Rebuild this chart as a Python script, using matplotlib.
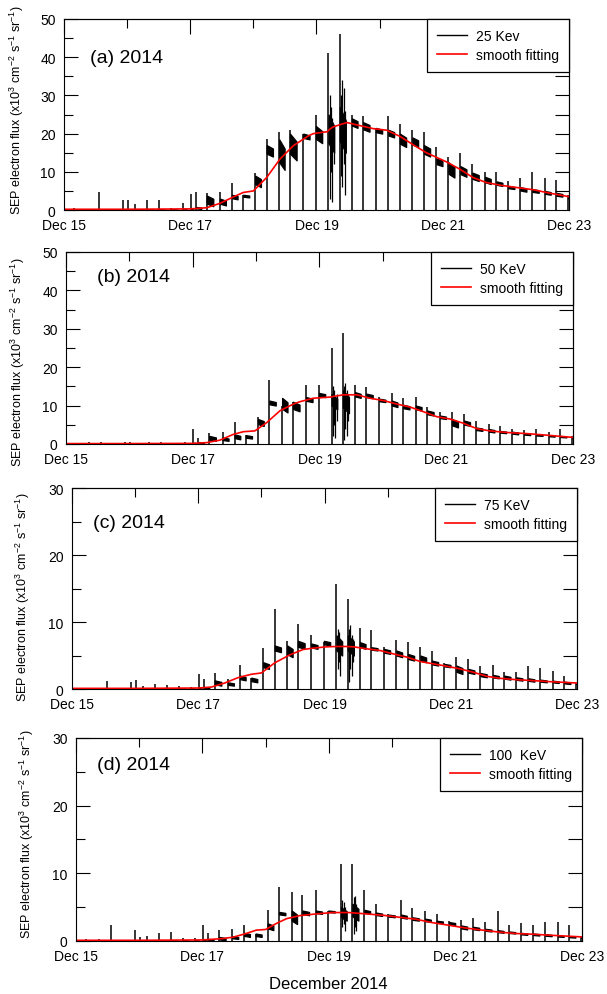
import matplotlib
matplotlib.use('Agg')
import matplotlib.pyplot as plt

plt.rcParams['font.family'] = 'Liberation Sans'
plt.rcParams['mathtext.fontset'] = 'custom'
plt.rcParams['mathtext.rm'] = 'Liberation Sans'
plt.rcParams['mathtext.default'] = 'regular'

# time axis: days after 15 Dec 2014 00:00 UT
tick_days = [0, 2, 4, 6, 8]
tick_labels = ['Dec 15', 'Dec 17', 'Dec 19', 'Dec 21', 'Dec 23']
minor_days = [1, 3, 5, 7]

# start of each data block / dropout (same for all channels)
t_evt = [0.16, 0.36, 0.55, 0.93, 1.01, 1.12, 1.31, 1.50, 1.69, 1.88,
         2.01, 2.09, 2.26, 2.47, 2.66, 2.84, 3.03, 3.21, 3.41, 3.58,
         3.79, 3.99, 4.19, 4.37, 4.56, 4.74, 4.94, 5.14, 5.32, 5.52,
         5.70, 5.90, 6.09, 6.28, 6.47, 6.67, 6.85, 7.04, 7.23, 7.42,
         7.62, 7.80, 7.99]

# 25 keV
peaks_a = [0.5, 0.3, 4.8, 2.5, 2.5, 1.5, 2.5, 2.5, 0.6, 1.8,
           4.1, 4.8, 4.5, 4.8, 7.2, 4.0, 9.6, 18.5, 20.5, 21.0,
           20.0, 24.8, 41.0, 46.0, 25.0, 24.6, 21.5, 24.6, 22.6, 21.0,
           20.5, 16.6, 14.0, 15.0, 12.0, 10.0, 10.0, 7.5, 8.3, 10.0,
           8.3, 7.9, 4.0]
bands_a = [(0, 0.2), (0, 0.2), (0, 0.2), (0, 0.2), (0, 0.2),
           (0, 0.2), (0, 0.2), (0, 0.2), (0, 0.2), (0, 0.2),
           (0.2, 0.5), (0.3, 0.8), (1.0, 3.8), (1.2, 3.0), (2.8, 4.0),
           (3.3, 4.0), (6.0, 9.0), (14.0, 17.0), (10.5, 18.5), (13.0, 20.0),
           (18.5, 20.0), (17.5, 22.0), (15.0, 25.0), (15.0, 27.0), (21.5, 24.0),
           (20.5, 23.0), (20.0, 21.5), (19.0, 21.0), (16.5, 20.0), (16.5, 19.0),
           (14.0, 17.0), (11.5, 13.5), (8.5, 12.5), (8.7, 11.5), (7.6, 9.8),
           (6.8, 8.7), (6.3, 7.5), (5.5, 6.3), (4.8, 6.0), (4.5, 5.5),
           (4.0, 5.0), (3.5, 4.5), (3.0, 3.6)]
extra_a = [(4.21, 3, 30), (4.23, 10, 27), (4.25, 2, 24), (4.27, 12, 22),
           (4.39, 9, 30), (4.41, 6, 34), (4.43, 12, 32), (4.45, 4, 26)]
fit_a_t = [0, 1.0, 2.0, 2.26, 2.47, 2.68, 2.84, 3.0, 3.21, 3.42, 3.63, 3.87,
           3.95, 4.17, 4.22, 4.27, 4.48, 4.69, 4.90, 5.11, 5.32, 5.53, 5.74,
           5.90, 6.06, 6.27, 6.48, 6.69, 6.91, 7.17, 7.44, 7.70, 8.0]
fit_a_y = [0.2, 0.2, 0.3, 0.6, 1.75, 3.4, 4.6, 5.0, 8.5, 13.3, 16.8, 19.4,
           20.0, 20.5, 21.3, 21.8, 22.9, 22.1, 21.3, 20.9, 19.3, 17.1, 15.0,
           13.8, 12.6, 10.7, 8.5, 7.2, 6.5, 5.9, 5.3, 4.4, 3.5]

# 50 keV
peaks_b = [0.2, 0.4, 0.5, 0.5, 0.5, 0.3, 0.5, 0.5, 0.3, 0.5,
           3.9, 1.5, 2.8, 3.2, 5.6, 2.3, 6.9, 16.6, 10.0, 11.0,
           15.3, 15.3, 24.9, 29.0, 15.3, 14.8, 12.2, 13.3, 11.9, 12.2,
           9.6, 8.2, 8.2, 7.8, 6.1, 5.2, 4.7, 3.9, 3.7, 3.9,
           3.2, 3.9, 2.0]
bands_b = [(0, 0.1), (0, 0.1), (0, 0.1), (0, 0.1), (0, 0.1),
           (0, 0.1), (0, 0.1), (0, 0.1), (0, 0.1), (0, 0.1),
           (0.1, 0.3), (0.2, 0.5), (0.8, 2.1), (0.8, 1.7), (1.2, 2.5),
           (1.4, 2.3), (4.7, 6.5), (10.0, 11.3), (8.2, 12.0), (8.5, 11.0),
           (10.9, 12.2), (12.2, 13.3), (9.0, 13.0), (8.0, 14.0), (12.0, 13.5),
           (11.9, 13.1), (10.9, 11.8), (9.6, 11.3), (9.0, 10.2), (8.7, 10.0),
           (7.4, 8.7), (6.5, 7.4), (4.3, 6.5), (4.7, 6.1), (3.4, 4.3),
           (3.0, 3.9), (2.8, 3.4), (2.5, 3.2), (2.3, 2.8), (2.1, 2.5),
           (1.9, 2.3), (1.7, 2.1), (1.5, 1.8)]
extra_b = [(4.21, 2, 15), (4.23, 5, 14), (4.25, 1.5, 12), (4.27, 6, 13),
           (4.39, 1, 15), (4.41, 4, 16), (4.43, 2, 14), (4.45, 6, 13)]
fit_b_t = [0, 1.0, 2.0, 2.22, 2.43, 2.64, 2.80, 2.98, 3.17, 3.38, 3.59, 3.69,
           3.90, 4.16, 4.38, 4.59, 4.80, 5.01, 5.22, 5.43, 5.64, 5.85, 6.06,
           6.27, 6.48, 6.69, 6.95, 7.27, 7.58, 8.0]
fit_b_y = [0.1, 0.1, 0.15, 0.35, 1.0, 2.5, 3.2, 3.4, 5.6, 8.7, 10.4, 11.0,
           11.9, 12.2, 12.8, 12.8, 11.9, 11.3, 10.4, 9.6, 8.4, 7.1, 6.5,
           5.4, 4.0, 3.4, 3.0, 2.7, 2.3, 1.7]

# 75 keV
peaks_c = [0.1, 0.2, 1.25, 1.0, 1.4, 0.5, 0.75, 0.6, 0.5, 0.3,
           2.2, 1.5, 2.4, 1.5, 3.6, 1.7, 6.1, 12.0, 7.2, 9.7,
           8.1, 7.0, 15.7, 13.4, 9.1, 8.75, 6.2, 7.25, 7.0, 6.25,
           5.75, 3.9, 4.75, 4.5, 3.5, 3.6, 2.5, 2.5, 3.5, 3.1,
           2.75, 1.9, 0.9]
bands_c = [(0, 0.08), (0, 0.08), (0, 0.08), (0, 0.08), (0, 0.08),
           (0, 0.08), (0, 0.08), (0, 0.08), (0, 0.08), (0, 0.08),
           (0.1, 0.2), (0.1, 0.3), (0.5, 1.3), (0.5, 1.0), (1.3, 2.0),
           (1.0, 1.7), (3.0, 4.0), (5.5, 6.5), (4.75, 6.5), (6.0, 7.2),
           (6.0, 6.8), (6.5, 7.2), (5.0, 8.0), (5.0, 8.0), (6.0, 7.0),
           (5.75, 6.25), (5.25, 6.0), (4.75, 5.75), (4.25, 5.25), (4.0, 5.0),
           (3.5, 4.25), (3.25, 3.75), (2.25, 3.5), (2.25, 3.0), (1.75, 2.4),
           (1.6, 2.1), (1.4, 2.0), (1.25, 1.75), (1.1, 1.6), (1.0, 1.4),
           (0.9, 1.25), (0.75, 1.1), (0.7, 0.9)]
extra_c = [(4.21, 3, 9), (4.23, 4, 8.5), (4.25, 2, 7.5),
           (4.39, 1, 9), (4.41, 3, 9.5), (4.43, 2, 8), (4.45, 4, 7.5)]
fit_c_t = [0, 1.0, 2.0, 2.21, 2.42, 2.63, 2.84, 3.0, 3.21, 3.45, 3.66, 3.82,
           4.03, 4.19, 4.35, 4.46, 4.67, 4.88, 5.09, 5.31, 5.52, 5.73, 5.94,
           6.15, 6.36, 6.57, 6.78, 7.04, 7.31, 7.57, 8.0]
fit_c_y = [0.1, 0.1, 0.15, 0.3, 0.9, 1.7, 2.2, 2.4, 3.9, 5.1, 5.9, 6.1,
           6.3, 6.35, 6.35, 6.3, 6.0, 5.75, 5.25, 4.75, 4.1, 3.75, 3.4,
           3.0, 2.5, 1.9, 1.6, 1.4, 1.25, 1.1, 0.9]

# 100 keV
peaks_d = [0.3, 0.3, 2.3, 1.6, 0.6, 0.7, 1.2, 1.3, 0.4, 0.4,
           2.3, 1.2, 1.6, 1.8, 2.4, 1.1, 4.6, 8.0, 7.2, 6.8,
           7.5, 4.5, 11.4, 11.4, 7.5, 5.5, 4.0, 6.0, 4.9, 4.4,
           4.0, 3.0, 3.1, 3.4, 2.8, 4.5, 2.3, 2.6, 2.3, 2.8,
           2.8, 2.3, 0.6]
bands_d = [(0, 0.08), (0, 0.08), (0, 0.08), (0, 0.08), (0, 0.08),
           (0, 0.08), (0, 0.08), (0, 0.08), (0, 0.08), (0, 0.08),
           (0.1, 0.2), (0.1, 0.3), (0.1, 0.6), (0.3, 0.7), (0.6, 1.2),
           (0.6, 1.1), (1.6, 2.6), (3.8, 4.3), (2.5, 4.5), (3.8, 4.5),
           (4.0, 4.5), (4.2, 4.5), (3.0, 5.0), (3.0, 5.5), (4.0, 4.6),
           (3.7, 4.2), (3.5, 3.9), (3.3, 3.9), (3.0, 3.5), (2.8, 3.3),
           (2.6, 3.0), (2.3, 2.8), (1.7, 2.3), (1.6, 2.1), (1.4, 1.8),
           (1.2, 1.6), (1.1, 1.4), (0.9, 1.2), (0.8, 1.1), (0.7, 1.0),
           (0.6, 0.8), (0.5, 0.7), (0.45, 0.6)]
extra_d = [(4.21, 2, 6), (4.23, 2.5, 5.8), (4.25, 1.5, 5),
           (4.39, 1, 6.5), (4.41, 2, 6.7), (4.43, 1.5, 5.5)]
fit_d_t = [0, 1.0, 2.0, 2.31, 2.48, 2.69, 2.85, 3.0, 3.17, 3.33, 3.54, 3.80,
           4.06, 4.32, 4.59, 4.85, 5.12, 5.38, 5.64, 5.91, 6.17, 6.43, 6.70,
           6.96, 7.22, 7.49, 8.0]
fit_d_y = [0.1, 0.1, 0.15, 0.35, 0.55, 1.1, 1.6, 1.7, 2.6, 3.3, 3.75, 4.0,
           4.2, 4.2, 4.0, 3.8, 3.5, 3.2, 2.7, 2.3, 1.9, 1.6, 1.3, 1.1,
           1.0, 0.85, 0.6]

channels = ['25 Kev', '50 KeV', '75 KeV', '100  KeV']
tags = ['(a) 2014', '(b) 2014', '(c) 2014', '(d) 2014']
ymax = [50, 50, 30, 30]

# axes boxes in figure fractions
boxes = [(0.1054, 0.7879, 0.8320, 0.1920),
         (0.1087, 0.5528, 0.8353, 0.1930),
         (0.1186, 0.3065, 0.8320, 0.2020),
         (0.1252, 0.0533, 0.8336, 0.2040)]
tag_xy = [(0.051, 0.80), (0.061, 0.87), (0.042, 0.83), (0.042, 0.87)]
ylab_xy = [(-0.075, 0.53), (-0.077, 0.43), (-0.079, 0.46), (-0.079, 0.53)]

ylabel = 'SEP electron flux (x10$^3$ cm$^{-2}$ s$^{-1}$ sr$^{-1}$)'

fig = plt.figure(figsize=(6.07, 9.95), dpi=100)

panels = [(peaks_a, bands_a, extra_a, fit_a_t, fit_a_y),
          (peaks_b, bands_b, extra_b, fit_b_t, fit_b_y),
          (peaks_c, bands_c, extra_c, fit_c_t, fit_c_y),
          (peaks_d, bands_d, extra_d, fit_d_t, fit_d_y)]

for k, (peaks, bands, extras, ft, fy) in enumerate(panels):
    ax = fig.add_axes(boxes[k])

    # quiet-time baseline before the event
    ax.plot([0, t_evt[10]], [bands[0][1] * 0.7, bands[0][1] * 0.7], color='k', lw=0.8)
    for i, t in enumerate(t_evt):
        nxt = t_evt[i + 1] if i + 1 < len(t_evt) else 8.0
        lo, hi = bands[i]
        span = hi - lo
        # each data block: noisy clump sagging from its high to its low value
        ax.fill_between([t, t + 0.5 * (nxt - t)],
                        [lo + 0.25 * span, lo], [hi, lo + 0.7 * span],
                        color='k', lw=0.9)
        ax.vlines(t, 0, peaks[i], color='k', lw=1.1)
    for t, lo, hi in extras:
        ax.vlines(t, lo, hi, color='k', lw=0.9)
    line_obs, = ax.plot([], [], color='k', lw=1.0)
    line_fit, = ax.plot(ft, fy, color='red', lw=1.2)

    ax.set_xlim(0, 8)
    ax.set_ylim(0, ymax[k])
    ax.set_xticks(tick_days)
    ax.set_xticklabels(tick_labels)
    ax.set_yticks(range(0, ymax[k] + 1, 10))
    ax.set_yticks(range(5, ymax[k], 10), minor=True)
    ax.tick_params(axis='x', which='both', length=0, pad=6, labelsize=10)
    ax.tick_params(axis='y', which='major', direction='in', length=10, width=0.8,
                   pad=6, labelsize=10)
    ax.tick_params(axis='y', which='minor', direction='in', length=6.5, width=0.8)
    for sp in ax.spines.values():
        sp.set_linewidth(0.8)

    top = ax.secondary_xaxis('top')
    top.set_xticks(tick_days)
    top.set_xticks(minor_days, minor=True)
    top.set_xticklabels([])
    top.tick_params(which='major', direction='in', length=11, width=0.8)
    top.tick_params(which='minor', direction='in', length=6.5, width=0.8)
    top.spines['top'].set_linewidth(0.8)

    right = ax.secondary_yaxis('right')
    right.set_yticks(range(5, ymax[k], 5))
    right.set_yticklabels([])
    right.tick_params(direction='in', length=10, width=0.8)
    right.spines['right'].set_linewidth(0.8)

    ax.set_ylabel(ylabel, fontsize=9)
    ax.yaxis.set_label_coords(*ylab_xy[k])
    ax.text(tag_xy[k][0], tag_xy[k][1], tags[k], transform=ax.transAxes,
            fontsize=14, va='center', ha='left')

    leg = ax.legend([line_obs, line_fit], [channels[k], 'smooth fitting'],
                    loc='upper right', borderaxespad=0, fancybox=False,
                    edgecolor='k', framealpha=1, fontsize=10, handlelength=2.2,
                    handletextpad=0.65, borderpad=0.7, labelspacing=0.4)
    leg.get_frame().set_linewidth(0.9)

fig.text(328 / 607, 0.011, 'December 2014', fontsize=12, ha='center', va='center')

fig.savefig('out.png', dpi=100)
